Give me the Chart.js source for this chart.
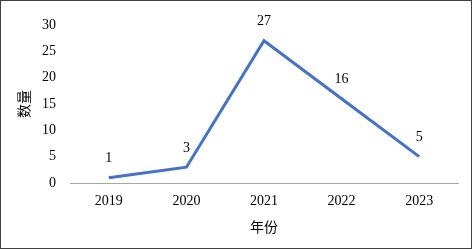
<!DOCTYPE html>
<html>
<head>
<meta charset="utf-8">
<script src="https://cdn.jsdelivr.net/npm/chart.js@4/dist/chart.umd.min.js"></script>
<style>
html,body{margin:0;padding:0;background:#fff;}
#wrap{position:relative;width:470px;height:247px;border:1px solid #404040;}
canvas{display:block;}
</style>
</head>
<body>
<div id="wrap"><canvas id="c" width="470" height="247"></canvas></div>
<script>
const years = ["2019", "2020", "2021", "2022", "2023"];
const counts = [1, 3, 27, 16, 5];
const yTicks = [0, 5, 10, 15, 20, 25, 30];

const serif = "'Liberation Serif', 'Times New Roman', serif";
const cjk = "'Noto Sans CJK SC', sans-serif";

const labelPlugin = {
  id: 'pointLabels',
  afterDatasetsDraw(chart) {
    const ctx = chart.ctx;
    const meta = chart.getDatasetMeta(0);
    ctx.save();
    ctx.font = "14px " + serif;
    ctx.fillStyle = '#000';
    ctx.textAlign = 'center';
    ctx.textBaseline = 'middle';
    meta.data.forEach((pt, i) => {
      ctx.fillText(String(counts[i]), pt.x, pt.y - 19);
    });
    ctx.restore();
  }
};

new Chart(document.getElementById('c'), {
  type: 'line',
  data: {
    labels: years,
    datasets: [{
      data: counts,
      borderColor: '#4472C4',
      borderWidth: 3,
      pointRadius: 0,
      tension: 0,
      fill: false
    }]
  },
  options: {
    responsive: false,
    animation: false,
    layout: { padding: { left: 14, right: 13, top: 24, bottom: 13 } },
    plugins: { legend: { display: false }, tooltip: { enabled: false } },
    scales: {
      x: {
        offset: true,
        grid: { display: false, drawTicks: false },
        border: { display: true, color: '#A6A6A6', width: 1 },
        ticks: { color: '#000', font: { family: serif, size: 14 }, padding: 10, maxRotation: 0 },
        title: { display: true, text: '年份', color: '#000', font: { family: cjk, size: 14 }, padding: { top: 4, bottom: 0 } },
        afterFit(s) { s.height = 52; }
      },
      y: {
        min: 0, max: 30,
        afterBuildTicks(s) { s.ticks = yTicks.map(v => ({ value: v })); },
        grid: { display: false, drawTicks: false },
        border: { display: false },
        ticks: { color: '#000', font: { family: serif, size: 14 }, padding: 14 },
        title: { display: true, text: '数量', color: '#000', font: { family: cjk, size: 14 }, padding: { top: 0, bottom: 4 } },
        afterFit(s) { s.width = 55; }
      }
    }
  },
  plugins: [labelPlugin]
});
</script>
</body>
</html>
